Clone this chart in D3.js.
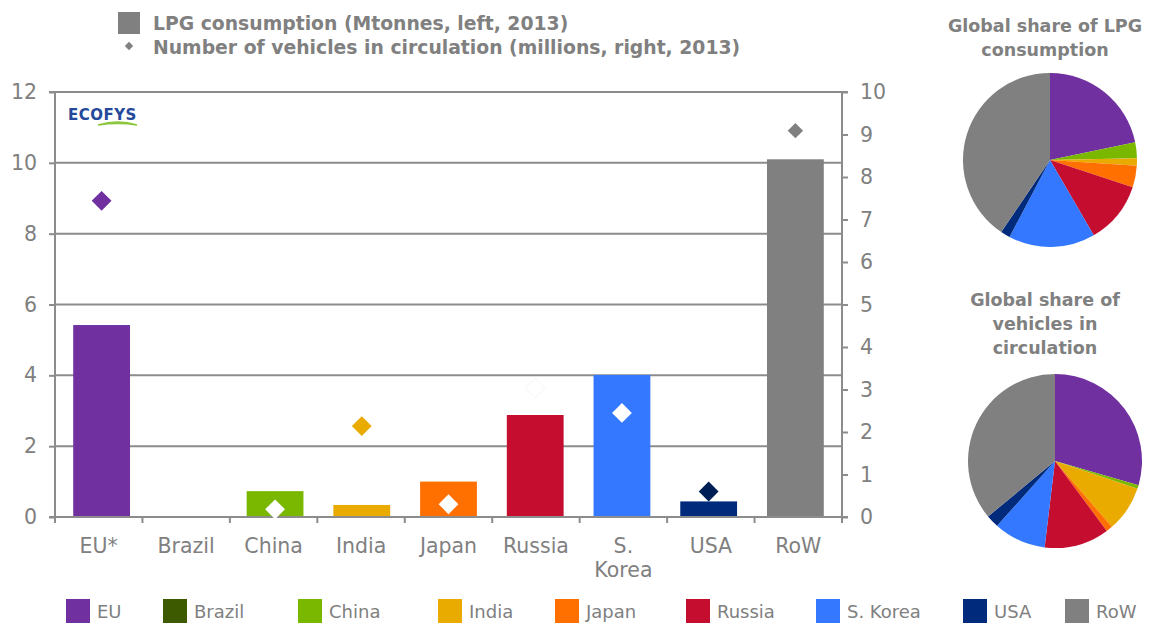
<!DOCTYPE html>
<html>
<head>
<meta charset="utf-8">
<script src="https://cdn.jsdelivr.net/npm/d3@7"></script>
<style>
  html, body { margin: 0; padding: 0; background: #fff; }
  svg { display: block; }
  text { font-family: "DejaVu Sans", Verdana, sans-serif; fill: #808080; }
</style>
</head>
<body>
<svg id="chart" width="1161" height="623"></svg>
<script>
// Regions shown on the category axis
const categories = ["EU*", "Brazil", "China", "India", "Japan", "Russia", "S. Korea", "USA", "RoW"];
// Legend / pie names for the same regions
const regionNames = ["EU", "Brazil", "China", "India", "Japan", "Russia", "S. Korea", "USA", "RoW"];
// LPG consumption, Mtonnes (left axis), 2013
const lpgConsumption = [5.42, 0, 0.73, 0.34, 1.0, 2.88, 4.01, 0.44, 10.1];
// Number of LPG vehicles in circulation, millions (right axis), 2013
const vehicles = [7.44, 0, 0.18, 2.14, 0.3, 3.04, 2.45, 0.6, 9.09];
// Axis ticks
const leftTicks = [0, 2, 4, 6, 8, 10, 12];
const rightTicks = [0, 1, 2, 3, 4, 5, 6, 7, 8, 9, 10];

// Colours
const regionColors = ["#7030a0", "#3d5a00", "#7ab800", "#e9ab00", "#ff7000", "#c50d30", "#3378ff", "#002a7c", "#808080"];
const diamondColors = ["#7030a0", "#ffffff", "#ffffff", "#e9ab00", "#ffffff", "#ffffff", "#ffffff", "#001d55", "#808080"];
const axisColor = "#8c8c8c";

const svg = d3.select("#chart");

// ---- main plot geometry
const plot = { left: 55, right: 842, top: 92, bottom: 517 };

const x = d3.scaleBand().domain(categories).range([plot.left, plot.right]).paddingInner(0.345).paddingOuter(0.21);
const xEdges = d3.scaleBand().domain(categories).range([plot.left, plot.right]);
const yLeft = d3.scaleLinear().domain([0, 12]).range([plot.bottom, plot.top]);
const yRight = d3.scaleLinear().domain([0, 10]).range([plot.bottom, plot.top]);

// gridlines at the left-axis ticks
svg.append("g").selectAll("line")
  .data(leftTicks.filter(d => d > 0))
  .join("line")
  .attr("x1", plot.left).attr("x2", plot.right)
  .attr("y1", d => yLeft(d)).attr("y2", d => yLeft(d))
  .attr("stroke", axisColor).attr("stroke-width", 2);

// bars
svg.append("g").selectAll("rect")
  .data(categories)
  .join("rect")
  .attr("x", d => x(d))
  .attr("width", x.bandwidth())
  .attr("y", (d, i) => yLeft(lpgConsumption[i]))
  .attr("height", (d, i) => yLeft(0) - yLeft(lpgConsumption[i]))
  .attr("fill", (d, i) => regionColors[i]);

// left axis
const gL = svg.append("g").attr("transform", `translate(${plot.left},0)`)
  .call(d3.axisLeft(yLeft).tickValues(leftTicks).tickSize(6).tickPadding(12));
// right axis
const gR = svg.append("g").attr("transform", `translate(${plot.right},0)`)
  .call(d3.axisRight(yRight).tickValues(rightTicks).tickSize(6).tickPadding(12));
// bottom axis: ticks sit on category boundaries
const gB = svg.append("g").attr("transform", `translate(0,${plot.bottom})`)
  .call(d3.axisBottom(xEdges).tickSize(0).tickPadding(21));
gB.append("g").selectAll("line")
  .data(categories.slice(1))
  .join("line")
  .attr("x1", d => xEdges(d)).attr("x2", d => xEdges(d))
  .attr("y1", 0).attr("y2", 6)
  .attr("stroke", axisColor).attr("stroke-width", 2);

[gL, gR, gB].forEach(g => {
  g.select(".domain").attr("stroke", axisColor).attr("stroke-width", 2);
  g.selectAll(".tick line").attr("stroke", axisColor).attr("stroke-width", 2);
  g.selectAll(".tick text").attr("fill", "#808080").style("font-size", "20.5px")
    .style("font-family", '"DejaVu Sans", Verdana, sans-serif');
});
gL.select(".domain").attr("d", `M-6,${plot.top}H0V${plot.bottom}H-6`);
gR.select(".domain").attr("d", `M6,${plot.top}H0V${plot.bottom}H6`);
gB.select(".domain").attr("d", `M${plot.left},0V6V0H${plot.right}V6`);

// two-line category label for S. Korea
gB.selectAll(".tick text").each(function(d) {
  if (d === "S. Korea") {
    const t = d3.select(this);
    t.text(null);
    t.append("tspan").attr("x", 0).attr("dy", "0.71em").text("S.");
    t.append("tspan").attr("x", 0).attr("dy", "1.18em").text("Korea");
    t.attr("dy", null);
  }
});

// vehicle diamonds on the right axis
const diamond = d3.symbol().type(d3.symbolDiamond2);
const diamondData = categories
  .map((c, i) => ({ c, v: vehicles[i], color: diamondColors[i] }))
  .filter(d => d.v > 0);
svg.append("g").selectAll("path")
  .data(diamondData)
  .join("path")
  .attr("transform", d => `translate(${x(d.c) + x.bandwidth() / 2},${yRight(d.v)})`)
  .attr("d", d => diamond.size(d.c === "RoW" ? 150 : 250)())
  .attr("fill", d => d.color)
  .attr("stroke", d => d.c === "Russia" ? "#f6f6f6" : "none");

// ECOFYS mark
const logo = svg.append("g").attr("transform", "translate(68,120)");
logo.append("text").text("ECOFYS")
  .style("font-family", '"DejaVu Sans", sans-serif').style("font-size", "15px")
  .style("font-weight", "bold").style("letter-spacing", "0.5px")
  .style("fill", "#24489a");
logo.append("path")
  .attr("d", "M30,5 Q50,-1 69,5 Q50,2 30,5 Z")
  .attr("fill", "#8cc63f").attr("stroke", "#8cc63f").attr("stroke-width", 1.4);

// ---- top legend
const topLegend = svg.append("g");
topLegend.append("rect").attr("x", 118).attr("y", 12).attr("width", 22).attr("height", 22).attr("fill", "#808080");
topLegend.append("path").attr("transform", "translate(129,46)").attr("d", d3.symbol().type(d3.symbolDiamond2).size(45)()).attr("fill", "#808080");
topLegend.selectAll("text")
  .data(["LPG consumption (Mtonnes, left, 2013)", "Number of vehicles in circulation (millions, right, 2013)"])
  .join("text")
  .attr("x", 153).attr("y", (d, i) => 30 + i * 24)
  .style("font-family", '"DejaVu Sans", sans-serif')
  .style("font-weight", "bold").style("font-size", "18.8px")
  .text(d => d);

// ---- bottom legend
const legendX = [66, 163, 298, 438, 555, 686, 816, 963, 1065];
const bottomLegend = svg.append("g").selectAll("g")
  .data(regionNames)
  .join("g")
  .attr("transform", (d, i) => `translate(${legendX[i]},599)`);
bottomLegend.append("rect").attr("width", 24).attr("height", 24).attr("fill", (d, i) => regionColors[i]);
bottomLegend.append("text").attr("x", 31).attr("y", 19)
  .style("font-size", "18px")
  .style("font-family", '"DejaVu Sans", sans-serif')
  .text(d => d);

// ---- share pies
const pie = d3.pie().sort(null).value(d => d);
const arc = d3.arc().innerRadius(0).outerRadius(87);

function drawPie(values, cx, cy, titleLines, titleY) {
  const g = svg.append("g").attr("transform", `translate(${cx},${cy})`);
  g.selectAll("path")
    .data(pie(values))
    .join("path")
    .attr("d", arc)
    .attr("fill", (d, i) => regionColors[i]);
  svg.append("g").selectAll("text")
    .data(titleLines)
    .join("text")
    .attr("x", 1045).attr("y", (d, i) => titleY + i * 24)
    .attr("text-anchor", "middle")
    .style("font-family", '"DejaVu Sans", Verdana, sans-serif')
    .style("font-weight", "bold").style("font-size", "17.5px")
    .text(d => d);
}

drawPie(lpgConsumption, 1050, 160, ["Global share of LPG", "consumption"], 32);
drawPie(vehicles, 1055, 461, ["Global share of", "vehicles in", "circulation"], 306);
</script>
</body>
</html>
